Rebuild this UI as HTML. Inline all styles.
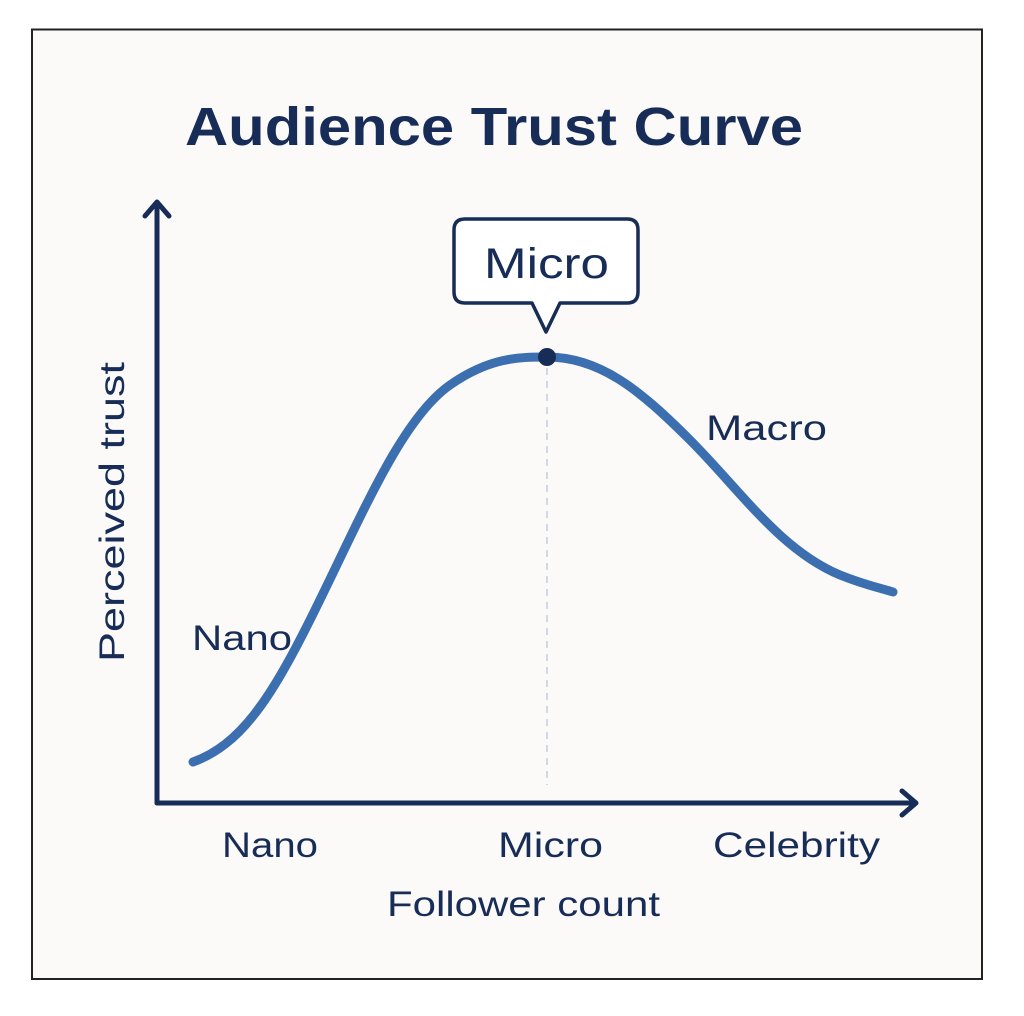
<!DOCTYPE html>
<html><head><style>
html,body{margin:0;padding:0;background:#fff;}
svg{display:block;}
text{font-family:"Liberation Sans",sans-serif;fill:#172d57;}
</style></head><body>
<svg width="1024" height="1016" viewBox="0 0 1024 1016">
<rect x="32" y="29.5" width="950" height="949.5" fill="#fbfaf8" stroke="#222" stroke-width="2"/>
<text x="185" y="145" font-size="54" font-weight="bold" textLength="618" lengthAdjust="spacingAndGlyphs">Audience Trust Curve</text>
<g stroke="#172d57" stroke-width="5" fill="none" stroke-linecap="round" stroke-linejoin="round">
<path d="M157 803 V202 M145 216 L157 202 L169 216"/>
<path d="M157 803 H916 M902 791 L916 803 L902 815"/>
</g>
<line x1="547" y1="368" x2="547" y2="785" stroke="#c4cde0" stroke-width="1.5" stroke-dasharray="7,6"/>
<path d="M193 762 C240 745 270 700 310 620 C360 520 400 420 450 385 C490 357 520 357 547 357 C600 357 640 390 690 440 C740 490 780 550 840 575 C865 585 880 588 893 592" fill="none" stroke="#3c6fb0" stroke-width="9" stroke-linecap="round"/>
<circle cx="547" cy="357" r="9" fill="#172d57"/>
<path d="M465 219 H627 Q638 219 638 230 V292 Q638 303 627 303 H560 L546 332 L532 303 H465 Q454 303 454 292 V230 Q454 219 465 219 Z" fill="#fff" stroke="#172d57" stroke-width="3.5" stroke-linejoin="round"/>
<text x="484" y="278" font-size="43" textLength="125" lengthAdjust="spacingAndGlyphs">Micro</text>
<text x="706" y="440" font-size="35" textLength="121" lengthAdjust="spacingAndGlyphs">Macro</text>
<text x="192" y="650" font-size="35" textLength="100" lengthAdjust="spacingAndGlyphs">Nano</text>
<text x="222" y="857" font-size="35" textLength="96" lengthAdjust="spacingAndGlyphs">Nano</text>
<text x="498" y="857" font-size="35" textLength="105" lengthAdjust="spacingAndGlyphs">Micro</text>
<text x="713" y="857" font-size="35" textLength="167" lengthAdjust="spacingAndGlyphs">Celebrity</text>
<text x="387" y="916" font-size="35" textLength="273" lengthAdjust="spacingAndGlyphs">Follower count</text>
<text transform="translate(124,662) rotate(-90)" font-size="35" textLength="300" lengthAdjust="spacingAndGlyphs">Perceived trust</text>
</svg>
</body></html>
